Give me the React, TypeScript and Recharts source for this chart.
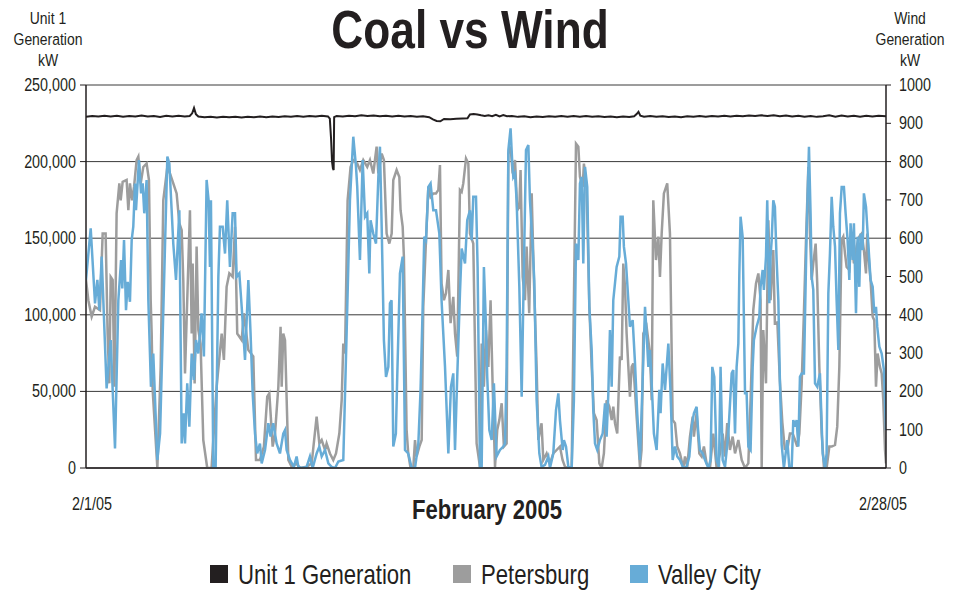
import React from 'react';
import { LineChart, Line, XAxis, YAxis, CartesianGrid } from 'recharts';

const FONT = "'Liberation Sans', Arial, sans-serif";
const INK = '#231f20';
const NARROW = 0.82;

const seriesNames = ['Unit 1 Generation', 'Petersburg', 'Valley City'];
const seriesColors = ['#231f20', '#9d9d9d', '#67acd7'];
const leftTicks = [0, 50000, 100000, 150000, 200000, 250000];
const rightTicks = [0, 100, 200, 300, 400, 500, 600, 700, 800, 900, 1000];
const dateTicks = [0, 648];
const dateLabels = ['2/1/05', '2/28/05'];

// [hour from 2/1/05 00:00, kW]
const unit1: [number, number][] = [
  [0,229200],[5,229800],[10,229400],[15,230000],[20,229500],[25,229900],[30,229300],[35,229700],[40,229500],[45,230100],
  [50,229400],[55,229800],[60,229200],[65,229900],[70,229500],[75,229900],[80,229400],[84,229800],[86,231500],[87.5,235000],
  [89,231000],[91,229400],[96,229000],[101,229300],[106,228800],[111,229200],[116,228900],[121,229300],[126,228800],[131,229200],
  [136,228900],[141,229400],[146,229000],[151,229500],[156,229100],[161,229600],[166,229200],[171,229700],[176,229300],[181,229800],
  [186,229400],[191,229900],[196,229500],[197.5,228000],[198.5,215000],[199.3,200000],[200,195500],[200.6,194500],[201,229000],[203,229800],
  [208,229400],[213,230000],[218,229600],[223,230200],[228,229700],[233,230100],[238,229600],[243,230000],[248,229500],[253,229900],
  [258,229400],[263,229800],[268,229300],[273,229600],[278,229000],[281,227500],[284,226500],[287,226300],[290,227800],[295,227600],
  [300,227900],[305,228100],[309,228300],[311,230800],[314,231000],[317,230700],[320,230200],[323,229800],[326,230300],[329,229700],
  [332,230600],[335,229500],[338,230400],[341,229600],[345,229800],[350,229200],[355,229600],[360,229000],[365,229500],[370,229100],
  [375,229600],[380,229200],[385,229700],[390,229300],[395,229800],[400,229300],[405,229700],[410,229200],[415,229600],[420,229100],
  [425,229500],[430,229000],[435,229400],[440,229100],[444,229600],[446,231000],[447.5,232500],[449,230000],[452,229300],[457,229700],
  [462,229200],[467,229600],[472,229100],[477,229500],[482,229000],[487,229600],[492,229200],[497,229700],[502,229300],[507,229800],
  [512,229400],[517,229900],[522,229500],[527,230000],[532,229600],[537,230100],[542,229700],[547,230200],[552,229800],[557,230300],
  [562,229600],[567,230100],[572,229500],[577,230000],[582,229300],[587,229800],[592,229200],[597,229600],[602,230200],[607,229300],
  [612,230100],[617,229400],[622,229900],[627,229300],[632,230000],[637,229500],[642,229900],[648,229600],
];

const petersburg: [number, number][] = [
  [0,491],[1.9,438],[4.6,395],[7.3,421],[11.3,412],[13.5,612],[15.9,612],[17.5,351],[18.9,221],[20,499],
  [21.6,491],[23,212],[24.8,665],[27,743],[28.1,699],[29.7,747],[32.9,752],[34.3,673],[35.6,743],[37.3,699],
  [38.9,734],[41,804],[42.4,813],[44.3,743],[46.4,786],[49.1,795],[51,752],[52.4,438],[53.2,351],[54,204],
  [57.8,0],[60.5,264],[62.6,699],[65.9,786],[68,769],[70.7,743],[73.4,717],[75.6,639],[77.5,621],[78.8,491],
  [80.2,247],[84.2,673],[85.6,351],[86.4,534],[88,221],[89.6,578],[91,360],[92.8,325],[95,73],[98.2,0],
  [101.7,0],[105.8,212],[109.9,351],[111.7,282],[113.9,473],[116.1,508],[118.8,499],[120.7,630],[122.5,351],[126.1,334],
  [127.9,404],[131.5,308],[135.5,291],[137.7,21],[140.9,21],[144.1,56],[146.8,186],[148.5,195],[151.2,56],[153.1,90],
  [155.8,212],[157.6,369],[158.5,212],[159.8,351],[161.2,334],[163.9,21],[166.6,3],[170.6,12],[173.3,0],[178.7,3],
  [182.8,12],[186.8,134],[189,64],[190.9,73],[193.6,47],[194.9,64],[197.6,38],[200.3,21],[202.5,38],[205.2,90],
  [207.1,177],[208.4,325],[209.8,299],[211.9,699],[214.3,786],[216.5,804],[219.7,795],[221.9,778],[224.6,804],[227.8,786],
  [230,804],[232.7,769],[235.4,839],[236.8,769],[239.5,821],[241.3,804],[243.5,612],[245.7,586],[247.6,612],[248.9,752],
  [251.6,778],[253.8,760],[254.8,673],[256.5,630],[257.5,552],[259.7,99],[261,38],[262.9,0],[265.1,0],[266.5,73],
  [267.8,30],[270,56],[271.9,73],[273.2,421],[275.4,595],[277.3,734],[279.1,708],[281.3,717],[283.5,717],[285.4,726],
  [286.7,791],[288,482],[289.9,438],[291.6,456],[293.5,517],[295.3,378],[297.5,447],[298.9,351],[300.7,291],[302.9,726],
  [304.3,721],[305.6,743],[307.8,808],[309.7,795],[311,612],[313.7,586],[316.4,64],[319.1,3],[320.5,325],[322.3,212],
  [324,360],[325.9,264],[327.7,438],[329.4,212],[331.3,3],[333.1,99],[334.8,125],[336.7,169],[338.5,56],[340.7,64],
  [342.1,821],[343.9,839],[345.6,769],[347.5,804],[349.3,673],[351,682],[352,778],[353.7,499],[355.6,438],[356.9,578],
  [359,404],[361,717],[362.8,491],[365,264],[366.4,73],[369,117],[370.4,21],[373.1,38],[375.8,12],[378.5,38],
  [381.2,47],[383.9,56],[386,21],[388,3],[390.7,0],[393.4,3],[395.2,438],[396.9,847],[398.8,839],[400.1,760],
  [402.3,734],[403.3,795],[404.2,769],[405.5,734],[407.7,421],[409.6,264],[411.4,143],[413.6,125],[415.8,12],[417.7,0],
  [419.5,38],[421.7,177],[423.9,160],[425.8,125],[427.1,160],[428.5,117],[430.3,90],[432.5,291],[433.9,282],[435.2,534],
  [436.6,473],[437.9,351],[439.3,264],[440.6,186],[442,264],[443.3,273],[446,134],[448.7,3],[450,47],[451.4,351],
  [454.1,369],[456.8,299],[458.2,177],[459.5,699],[461.7,543],[463.6,604],[464.9,499],[466.3,612],[468.1,717],[470.8,743],
  [473,612],[475.2,125],[477.1,117],[478.9,56],[481.1,38],[483.8,0],[485.2,30],[487,3],[489.2,82],[491.4,134],
  [492.4,82],[494.6,143],[496.8,38],[498.7,30],[500.5,56],[502.7,12],[505.4,0],[508.1,90],[510.8,0],[513.5,38],
  [515.7,90],[517.6,30],[519.4,117],[521.6,47],[523.8,82],[525.7,38],[528.4,73],[531.1,21],[533.8,0],[536.5,12],
  [538.3,177],[540.5,412],[542.7,482],[544.6,508],[546.4,438],[547.3,0],[548.6,360],[550.8,221],[552.7,647],[554.5,438],
  [556.7,569],[558,378],[560,380],[562,230],[564,120],[566,50],[568,47],[570.2,90],[572.4,90],[574.3,73],
  [576.1,56],[577.8,90],[579.7,221],[581.5,404],[583.2,595],[585.1,786],[586.4,612],[587.8,491],[589.1,534],[591,586],
  [592.3,482],[594,264],[595.9,90],[597.7,3],[599.9,0],[602.1,56],[604,56],[606.7,60],[608.5,108],[610.2,264],
  [612,595],[613.4,604],[614.8,560],[616.1,525],[618.3,517],[620.1,595],[622,534],[624.2,578],[626.4,604],[628.3,612],
  [630.1,569],[631.8,508],[632.8,612],[634.5,525],[635.5,491],[637.2,395],[638.5,386],[639.9,212],[641.2,299],[643.1,264],
  [644.5,247],[645.8,177],[647.2,47],[648,12],
];

const valleyCity: [number, number][] = [
  [0,491],[3.8,626],[7.3,430],[9.2,491],[10.8,412],[12.7,552],[16.7,208],[20,334],[23.5,51],[26.2,438],
  [28.4,543],[29.4,469],[30.8,595],[32.4,412],[33.8,486],[35.6,434],[37,595],[38.3,630],[39.7,743],[40.5,673],
  [42.9,804],[44.6,717],[45.9,743],[47.2,665],[49.1,752],[50.5,438],[52.6,212],[54.5,299],[57.8,21],[60,90],
  [65.9,813],[67.5,795],[70.7,586],[72.9,491],[75.6,673],[77.5,64],[79.3,143],[80.2,64],[82,221],[83.7,108],
  [85.6,299],[87.4,230],[89.1,334],[91,299],[93.6,404],[95.5,291],[97.7,752],[99.3,699],[100.4,525],[101.2,699],
  [103.1,3],[105,3],[107.2,499],[108.5,630],[110.7,630],[112.6,560],[114.4,699],[116.6,525],[118.8,665],[120.7,665],
  [122,499],[124.2,508],[126.1,421],[128.8,282],[131.5,491],[133.3,351],[135,195],[136.9,90],[138.7,38],[140.9,64],
  [142.3,12],[145,47],[147.7,117],[149.5,82],[151.7,117],[154.4,64],[157.1,38],[159.8,90],[161.2,99],[162.5,47],
  [165.2,21],[168.4,3],[170.6,30],[172,3],[174.7,0],[178.7,3],[181.4,30],[183.6,0],[186.8,38],[189,56],
  [190.9,30],[193.6,47],[196.3,12],[199,3],[201.7,0],[204.4,17],[208.4,21],[211.1,351],[213.8,699],[216.5,865],
  [218.7,786],[219.7,734],[221.9,543],[224.1,804],[226,656],[227.8,665],[229.5,508],[230.5,647],[232.7,612],[234.9,586],
  [236.8,760],[238.1,839],[239.5,630],[241.3,334],[243,238],[244.9,264],[246.2,430],[247.5,438],[248.9,56],[251,90],
  [252.1,238],[254.3,508],[256.5,552],[258.4,47],[261,38],[263.8,0],[266.5,0],[269.2,64],[271,204],[272.7,421],
  [274,604],[275.4,595],[277.3,734],[279.1,743],[281.3,673],[283.5,673],[286.2,612],[288,438],[290.8,264],[293.5,38],
  [295.6,212],[297.5,247],[298.9,47],[300.7,238],[302.9,456],[304.3,573],[307,534],[308.8,647],[311,673],[312.4,595],
  [313.7,708],[315.9,708],[317.2,525],[319.1,3],[320.5,3],[322.3,525],[324,369],[325,238],[326.7,99],[328.6,73],
  [330.4,221],[332.6,30],[335.3,47],[338,56],[339.4,64],[340.7,264],[342.1,830],[343.9,887],[345.3,795],[346.1,760],
  [347.5,769],[348.8,699],[351,473],[352.9,186],[354.7,525],[356.4,830],[358.3,843],[359.6,699],[361.8,578],[363.1,491],
  [365,177],[367.2,38],[369,3],[371.8,8],[374.5,30],[375.8,0],[378.5,38],[380.7,151],[382.6,195],[383.9,125],
  [386.1,47],[387.1,73],[388.8,56],[390.7,3],[393.4,0],[395.2,177],[396.9,586],[398.8,543],[400.1,743],[401.5,760],
  [402.8,534],[404.2,786],[406,734],[407.7,421],[409.6,308],[410.9,151],[412.3,64],[414.1,47],[416.3,73],[418.5,90],
  [420.4,169],[421.7,82],[423.1,195],[424.4,360],[425.8,212],[427.1,438],[429.8,525],[432,552],[433,656],[434.7,656],
  [435.7,578],[437.4,534],[439.3,438],[440.6,369],[442.8,386],[444.7,273],[446.5,143],[448.7,21],[450.9,230],[452.8,421],
  [454.1,351],[455.5,264],[456.8,308],[458.2,221],[460,90],[462.2,47],[464.4,204],[465.4,143],[467.1,273],[469,204],
  [471.7,325],[473.5,195],[475.2,21],[477.1,56],[478.9,30],[481.1,21],[483.8,0],[486.5,3],[488.7,30],[490.6,108],
  [492.4,143],[494.6,160],[496,90],[497.3,47],[499.5,38],[501.4,21],[504.1,0],[505.9,21],[507.3,264],[508.9,238],
  [510.8,21],[512.7,3],[514,264],[515.7,21],[517.6,3],[520.3,90],[523,247],[524.3,256],[525.7,90],[527,264],
  [528.4,325],[529.2,508],[530.2,656],[531.9,603],[533.8,195],[535.1,195],[536.5,56],[538.3,47],[540,264],[541,334],
  [543.2,369],[545.4,395],[546.4,473],[548.1,517],[549.1,465],[550.8,552],[551.8,699],[553.5,430],[554.5,552],[555.4,595],
  [556.7,699],[558,682],[559.4,543],[560.8,438],[562.1,221],[563.5,60],[565.3,0],[568,73],[569.7,3],[571.6,0],
  [572.9,125],[574.3,108],[575.6,125],[577,56],[578.3,238],[579.7,247],[581.5,247],[583.7,612],[585.6,839],[586.9,665],
  [587.8,499],[589.1,465],[590.5,221],[592.3,212],[594.5,247],[596.7,38],[598.6,0],[599.9,38],[601.3,456],[602.6,560],
  [604,708],[605.3,630],[606.7,578],[608,438],[609.4,308],[610.7,665],[612.1,734],[613.9,734],[615.3,665],[616.9,595],
  [618.3,491],[619.3,639],[621,543],[622,639],[623.7,404],[625,604],[626.4,473],[627.4,612],[629.1,569],[630.1,717],
  [631.8,682],[632.8,630],[634.5,543],[635.5,491],[637.2,473],[638.5,404],[639.9,421],[640.9,369],[642.6,317],[644.5,299],
  [646.3,256],[648,99],
];

const toRows = (pts: [number, number][]) => pts.map(([h, v]) => ({ h, v }));

// Condensed text (no narrow font installed, so squeeze Liberation Sans horizontally)
const NText = ({ x, y, size, anchor = 'start', bold = false, squeeze = NARROW, children }: any) => (
  <g transform={`translate(${x},${y}) scale(${squeeze},1)`}>
    <text x={0} y={0} textAnchor={anchor} fontSize={size} fontWeight={bold ? 'bold' : 'normal'} fill={INK} fontFamily={FONT}>
      {children}
    </text>
  </g>
);

const DateTick = (props: any) => {
  const { x, y, payload } = props;
  const i = dateTicks.indexOf(payload.value);
  const shift = i === 0 ? 6 : -3;
  return <NText x={x + shift} y={y + 42} size={17.5} anchor="middle">{dateLabels[i]}</NText>;
};

const LeftTick = (props: any) => {
  const { x, y, payload } = props;
  return <NText x={x} y={y + 6} size={17.5} anchor="end">{Number(payload.value).toLocaleString('en-US')}</NText>;
};

const RightTick = (props: any) => {
  const { x, y, payload } = props;
  return <NText x={x} y={y + 6} size={17.5} anchor="start">{String(payload.value)}</NText>;
};

const legendX = [210, 453, 630];

export default function App() {
  return (
    <div style={{ position: 'absolute', left: 0, top: 0, width: 959, height: 591, background: '#fff' }}>
      <LineChart width={959} height={591} margin={{ top: 85, right: 0, bottom: 83, left: 0 }}>
        <CartesianGrid yAxisId="left" vertical={false} stroke="#3a3a3a" strokeWidth={1} />
        <XAxis
          type="number"
          dataKey="h"
          domain={[0, 648]}
          ticks={dateTicks}
          tick={<DateTick />}
          tickLine={false}
          tickSize={0}
          tickMargin={0}
          height={40}
          allowDataOverflow
          axisLine={{ stroke: INK, strokeWidth: 1.5 }}
        />
        <YAxis
          yAxisId="left"
          orientation="left"
          width={86}
          domain={[0, 250000]}
          ticks={leftTicks}
          tick={<LeftTick />}
          tickSize={6}
          tickMargin={4}
          axisLine={{ stroke: INK, strokeWidth: 1.5 }}
          tickLine={{ stroke: INK }}
          allowDataOverflow
        />
        <YAxis
          yAxisId="right"
          orientation="right"
          width={73}
          domain={[0, 1000]}
          ticks={rightTicks}
          tick={<RightTick />}
          tickSize={5}
          tickMargin={8}
          axisLine={{ stroke: INK, strokeWidth: 1.5 }}
          tickLine={{ stroke: INK }}
          allowDataOverflow
        />
        <Line
          yAxisId="left"
          data={toRows(unit1)}
          dataKey="v"
          name={seriesNames[0]}
          stroke={seriesColors[0]}
          strokeWidth={2}
          dot={false}
          isAnimationActive={false}
        />
        <Line
          yAxisId="right"
          data={toRows(petersburg)}
          dataKey="v"
          name={seriesNames[1]}
          stroke={seriesColors[1]}
          strokeWidth={2.5}
          dot={false}
          isAnimationActive={false}
        />
        <Line
          yAxisId="right"
          data={toRows(valleyCity)}
          dataKey="v"
          name={seriesNames[2]}
          stroke={seriesColors[2]}
          strokeWidth={2.5}
          dot={false}
          isAnimationActive={false}
        />
      </LineChart>
      <svg width={959} height={591} style={{ position: 'absolute', left: 0, top: 0, pointerEvents: 'none' }}>
        <NText x={470} y={48} size={53} anchor="middle" bold squeeze={0.835}>Coal vs Wind</NText>
        <NText x={48} y={24} size={17} anchor="middle">Unit 1</NText>
        <NText x={48} y={45} size={17} anchor="middle">Generation</NText>
        <NText x={48} y={66} size={17} anchor="middle">kW</NText>
        <NText x={910} y={24} size={17} anchor="middle">Wind</NText>
        <NText x={910} y={45} size={17} anchor="middle">Generation</NText>
        <NText x={910} y={66} size={17} anchor="middle">kW</NText>
        <NText x={487} y={519} size={27} anchor="middle" bold>February 2005</NText>
        {seriesNames.map((name, i) => (
          <g key={name}>
            <rect x={legendX[i]} y={565} width={18} height={18} fill={seriesColors[i]} />
            <NText x={legendX[i] + 28} y={584} size={27}>{name}</NText>
          </g>
        ))}
      </svg>
    </div>
  );
}
